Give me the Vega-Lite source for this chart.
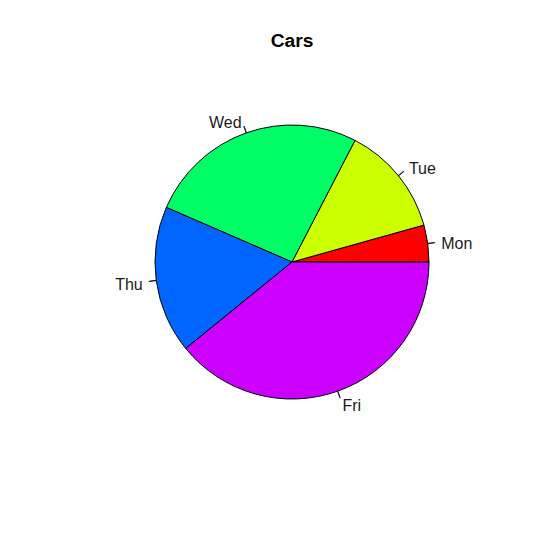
{
  "$schema": "https://vega.github.io/schema/vega-lite/v6.json",
  "width": 400,
  "height": 400,
  "autosize": {"type": "none"},
  "padding": {"left": 92, "top": 62, "right": 54, "bottom": 83},
  "background": "white",
  "title": {"text": "Cars", "font": "Liberation Sans", "fontSize": 19.2, "fontWeight": "bold", "color": "black", "baseline": "alphabetic", "offset": 15, "dy": 19, "anchor": "middle"},
  "config": {"view": {"stroke": null}},
  "data": {"values": [
    {"day": "Mon", "cars": 1, "idx": 1},
    {"day": "Tue", "cars": 3, "idx": 2},
    {"day": "Wed", "cars": 6, "idx": 3},
    {"day": "Thu", "cars": 4, "idx": 4},
    {"day": "Fri", "cars": 9, "idx": 5}
  ]},
  "transform": [
    {"window": [{"op": "sum", "field": "cars", "as": "cum"}], "sort": [{"field": "idx"}], "frame": [null, 0]},
    {"joinaggregate": [{"op": "sum", "field": "cars", "as": "total"}]},
    {"calculate": "PI/2 - 2*PI*(datum.cum - datum.cars)/datum.total", "as": "a0"},
    {"calculate": "PI/2 - 2*PI*datum.cum/datum.total", "as": "a1"},
    {"calculate": "(datum.a0 + datum.a1)/2", "as": "mid"},
    {"calculate": "datum.mid + 0.003", "as": "mid2"}
  ],
  "layer": [
    {
      "mark": {"type": "arc", "outerRadius": 137, "stroke": "black", "strokeWidth": 1},
      "encoding": {
        "theta": {"field": "a1", "type": "quantitative", "scale": null, "stack": null},
        "theta2": {"field": "a0"},
        "color": {"field": "day", "type": "nominal", "scale": {"domain": ["Mon", "Tue", "Wed", "Thu", "Fri"], "range": ["#FF0000", "#CCFF00", "#00FF66", "#0066FF", "#CC00FF"]}, "legend": null}
      }
    },
    {
      "mark": {"type": "arc", "radius": 137, "radius2": 144, "filled": false, "stroke": "black", "strokeWidth": 0.8},
      "encoding": {
        "theta": {"field": "mid", "type": "quantitative", "scale": null, "stack": null},
        "theta2": {"field": "mid2"}
      }
    },
    {
      "transform": [{"filter": "sin(datum.mid) >= 0"}],
      "mark": {"type": "text", "radius": 150.7, "align": "left", "baseline": "middle", "dy": 2.5, "font": "Liberation Sans", "fontSize": 16, "color": "#1a1a1a"},
      "encoding": {
        "theta": {"field": "mid", "type": "quantitative", "scale": null, "stack": null},
        "text": {"field": "day"}
      }
    },
    {
      "transform": [{"filter": "sin(datum.mid) < 0"}],
      "mark": {"type": "text", "radius": 150.7, "align": "right", "baseline": "middle", "dy": 2.5, "font": "Liberation Sans", "fontSize": 16, "color": "#1a1a1a"},
      "encoding": {
        "theta": {"field": "mid", "type": "quantitative", "scale": null, "stack": null},
        "text": {"field": "day"}
      }
    }
  ]
}
